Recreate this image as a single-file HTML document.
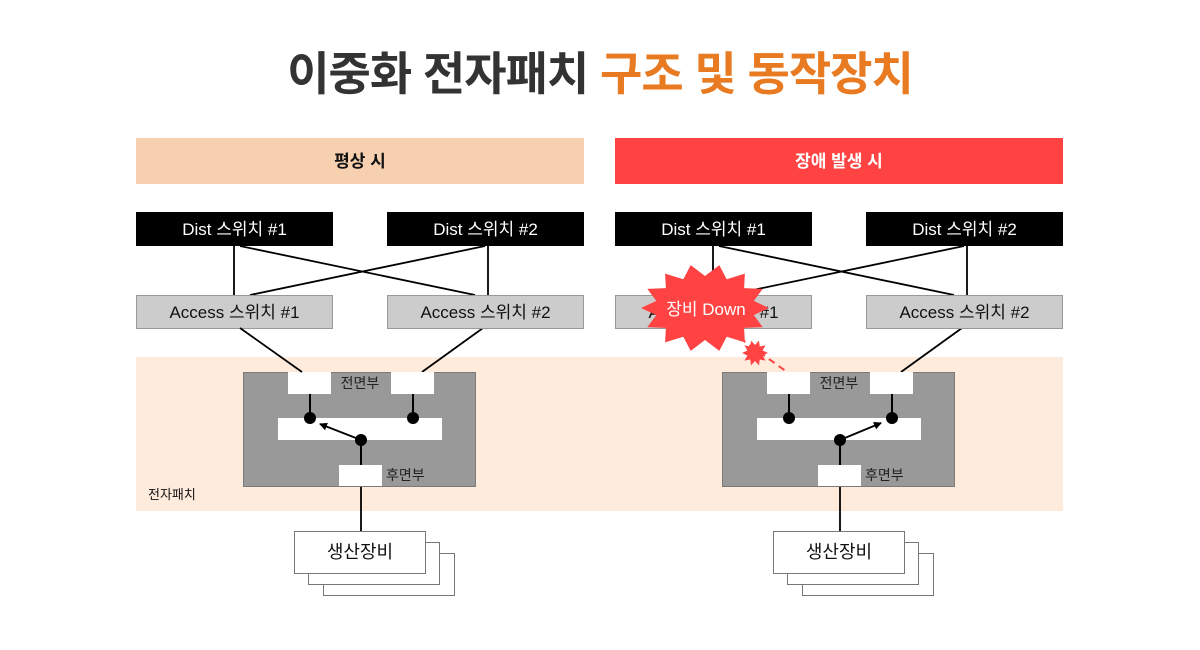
<!DOCTYPE html>
<html><head><meta charset="utf-8"><style>
html,body{margin:0;padding:0;background:#fff;}
svg{display:block;font-family:"Liberation Sans","Noto Sans CJK KR",sans-serif;}
</style></head><body>
<svg width="1200" height="650" viewBox="0 0 1200 650" xmlns="http://www.w3.org/2000/svg">
<defs>
<marker id="ah" markerWidth="8" markerHeight="8" refX="7" refY="4" orient="auto" markerUnits="userSpaceOnUse">
<path d="M0,0 L8,4 L0,8 Z" fill="#000"/>
</marker>
</defs>
<rect width="1200" height="650" fill="#fff"/>
<text x="600" y="90" text-anchor="middle" font-size="46" font-weight="bold" letter-spacing="-1" font-family="'Liberation Sans','Noto Sans CJK KR',sans-serif"><tspan fill="#333333">이중화 전자패치 </tspan><tspan fill="#e87a22">구조 및 동작장치</tspan></text>

<!-- headers -->
<rect x="136" y="138" width="448" height="46" fill="#f7d0b0"/>
<text x="360" y="167" text-anchor="middle" font-size="17" font-weight="bold" fill="#111">평상 시</text>
<rect x="615" y="138" width="448" height="46" fill="#ff4343"/>
<text x="839" y="167" text-anchor="middle" font-size="17" font-weight="bold" fill="#fff">장애 발생 시</text>

<!-- patch area bg -->
<rect x="136" y="357" width="927" height="154" fill="#ffebdc"/>
<text x="148" y="499" font-size="13" fill="#111">전자패치</text>

<!-- LEFT SIDE -->
<g id="side">
<g stroke="#000" stroke-width="1.8" fill="none">
<line x1="234" y1="246" x2="234" y2="295"/>
<line x1="488" y1="246" x2="488" y2="295"/>
<line x1="240" y1="246" x2="475" y2="295"/>
<line x1="485" y1="246" x2="250" y2="295"/>
<line x1="483" y1="328" x2="422" y2="372"/>
<line x1="361" y1="486" x2="361" y2="531"/>
</g>
<rect x="136" y="212" width="197" height="34" fill="#000"/>
<text x="234.5" y="235" text-anchor="middle" font-size="17" fill="#fff">Dist 스위치 #1</text>
<rect x="387" y="212" width="197" height="34" fill="#000"/>
<text x="485.5" y="235" text-anchor="middle" font-size="17" fill="#fff">Dist 스위치 #2</text>
<rect x="136.5" y="295.5" width="196" height="33" fill="#cccccc" stroke="#999" stroke-width="1"/>
<rect x="387.5" y="295.5" width="196" height="33" fill="#cccccc" stroke="#999" stroke-width="1"/>
<text x="485.5" y="318" text-anchor="middle" font-size="17" fill="#111">Access 스위치 #2</text>

<!-- patch box -->
<rect x="243.5" y="372.5" width="232" height="114" fill="#999999" stroke="#7a7a7a" stroke-width="1"/>
<rect x="288" y="372" width="43" height="22" fill="#fff"/>
<rect x="391" y="372" width="43" height="22" fill="#fff"/>
<text x="360" y="388" text-anchor="middle" font-size="14" fill="#222">전면부</text>
<rect x="278" y="418" width="164" height="22" fill="#fff"/>
<rect x="339" y="465" width="43" height="21" fill="#fff"/>
<text x="386" y="480" font-size="14" fill="#222">후면부</text>
<g stroke="#000" stroke-width="2">
<line x1="310" y1="394" x2="310" y2="418"/>
<line x1="413" y1="394" x2="413" y2="418"/>
<line x1="361" y1="440" x2="361" y2="465"/>
</g>
<circle cx="310" cy="418" r="6" fill="#000"/>
<circle cx="413" cy="418" r="6" fill="#000"/>
<circle cx="361" cy="440" r="6" fill="#000"/>

<!-- production -->
<rect x="323.5" y="553.5" width="131" height="42" fill="#fff" stroke="#777" stroke-width="1"/>
<rect x="308.5" y="542.5" width="131" height="42" fill="#fff" stroke="#777" stroke-width="1"/>
<rect x="294.5" y="531.5" width="131" height="42" fill="#fff" stroke="#777" stroke-width="1"/>
<text x="360" y="558" text-anchor="middle" font-size="18" fill="#111">생산장비</text>
</g>
<!-- left-only elements -->
<line x1="240" y1="328" x2="302" y2="372" stroke="#000" stroke-width="1.8"/>
<text x="234.5" y="318" text-anchor="middle" font-size="17" fill="#111">Access 스위치 #1</text>
<line x1="361" y1="440" x2="320" y2="424" stroke="#000" stroke-width="1.8" marker-end="url(#ah)"/>

<!-- RIGHT SIDE -->
<use href="#side" transform="translate(479,0)"/>
<text x="713.5" y="318" text-anchor="middle" font-size="17" fill="#111">Access 스위치 #1</text>
<line x1="840" y1="440" x2="881" y2="423" stroke="#000" stroke-width="1.8" marker-end="url(#ah)"/>
<line x1="730" y1="331" x2="787" y2="372" stroke="#ff4343" stroke-width="2" stroke-dasharray="7,5"/>

<!-- burst -->
<polygon fill="#ff4343" points="769,308 753.8,315.1 762.7,327.1 744.1,327.9 744.9,342.4 726.7,336.8 719.3,350.9 705,340 690.7,350.9 683.3,336.8 665.1,342.4 665.9,327.9 647.3,327.1 656.3,315.1 641,308 656.3,300.9 647.3,288.9 665.9,288.1 665.1,273.6 683.3,279.2 690.7,265.1 705,276 719.3,265.1 726.7,279.2 744.9,273.6 744.1,288.1 762.7,288.9 753.8,300.9"/>
<text x="706" y="315" text-anchor="middle" font-size="17" fill="#fff">장비 Down</text>
<polygon fill="#ff4343" points="768,353 762.6,355.5 765.5,360.6 759.7,359.5 759,365.4 755,361 751,365.4 750.3,359.5 744.5,360.6 747.4,355.5 742,353 747.4,350.5 744.5,345.4 750.3,346.5 751,340.6 755,345 759,340.6 759.7,346.5 765.5,345.4 762.6,350.5"/>
</svg>
</body></html>
